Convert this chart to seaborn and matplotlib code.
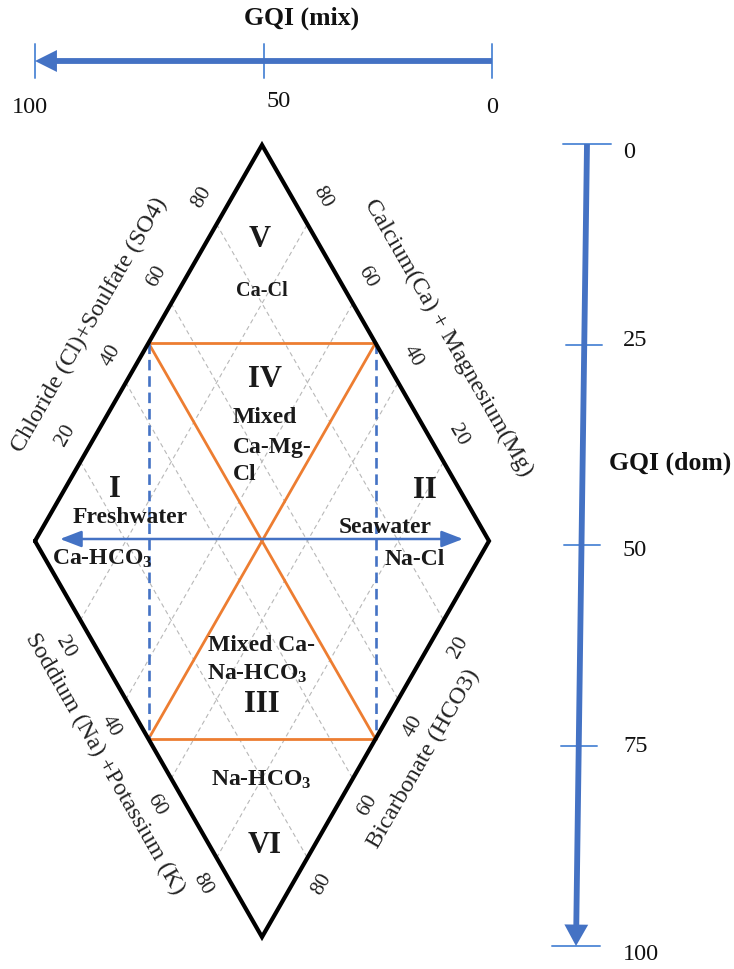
import numpy as np
import matplotlib
matplotlib.use("Agg")
import matplotlib.pyplot as plt
import seaborn as sns
from matplotlib.patches import FancyArrowPatch

# ---------------- data ----------------
gqi_mix_ticks = [100, 50, 0]
gqi_mix_labels = ["100", "50", "0"]
gqi_dom_ticks = [0, 25, 50, 75, 100]
gqi_dom_labels = ["0", "25", "50", "75", "100"]
edge_ticks = [20, 40, 60, 80]
grid_levels = [20, 40, 60, 80]
zone_split = 50

axis_titles = ["Chloride (Cl)+Soulfate (SO4)", "Calcium(Ca) + Magnesium(Mg)",
               "Soddium (Na) +Potassium (K)", "Bicarbonate (HCO3)"]

# ---------------- style ----------------
sns.set_theme(style="white")
plt.rcParams['font.family'] = ['Liberation Serif', 'DejaVu Serif']
plt.rcParams['mathtext.fontset'] = 'custom'
plt.rcParams['mathtext.rm'] = 'Liberation Serif:bold'
plt.rcParams['mathtext.it'] = 'Liberation Serif:bold'
plt.rcParams['mathtext.bf'] = 'Liberation Serif:bold'

BLUE = "#4472C4"
LBLUE = "#5B8FD8"
ORANGE = "#ED7D31"
GRAY = "#B8B8B8"

fig = plt.figure(figsize=(7.34, 9.69), dpi=100)
ax = fig.add_axes([0, 0, 1, 1])
ax.set_xlim(0, 734)
ax.set_ylim(969, 0)
ax.axis("off")

# diamond anchors (pixel layout)
L = np.array([35.0, 541.0])
T = np.array([262.0, 145.0])
B = np.array([262.0, 937.0])
R = T + B - L


def P(u, v):
    """diamond coordinates (percent) -> pixel position"""
    return L + u / 100.0 * (T - L) + v / 100.0 * (B - L)


def seg(p, q, **kw):
    ax.plot([p[0], q[0]], [p[1], q[1]], **kw)


# grid lines
for g in grid_levels:
    seg(P(g, 0), P(g, 100), color=GRAY, lw=0.8, ls=(0, (4, 3)), zorder=1)
    seg(P(0, g), P(100, g), color=GRAY, lw=0.8, ls=(0, (4, 3)), zorder=1)

# diamond outline
corners = [(0, 0), (100, 0), (100, 100), (0, 100), (0, 0)]
pts = np.array([P(u, v) for u, v in corners])
ax.plot(pts[:, 0], pts[:, 1], color="black", lw=3.0, solid_joinstyle="miter", zorder=5)

# orange zone boundaries
z = zone_split
seg(P(z, 0), P(100, z), color=ORANGE, lw=2.0, zorder=3)
seg(P(0, z), P(z, 100), color=ORANGE, lw=2.0, zorder=3)
seg(P(z, 0), P(z, 100), color=ORANGE, lw=2.0, zorder=3)
seg(P(100, z), P(0, z), color=ORANGE, lw=2.0, zorder=3)

# blue dashed verticals
seg(P(z, 0), P(0, z), color=BLUE, lw=1.9, ls=(0, (4, 2.2)), zorder=4)
seg(P(100, z), P(z, 100), color=BLUE, lw=1.9, ls=(0, (4, 2.2)), zorder=4)

# horizontal double arrow (freshwater <-> seawater)
cy = (L[1] + R[1]) / 2 - 2
arr = FancyArrowPatch((L[0] + 25, cy), (R[0] - 26, cy),
                      arrowstyle="<|-|>,head_length=1.3,head_width=0.5",
                      mutation_scale=10, color=BLUE, lw=1.8, shrinkA=0, shrinkB=0, zorder=6)
ax.add_patch(arr)

# ---------------- GQI (mix) axis ----------------
mix_y = 61
def mix_x(m):
    return R[0] + 3 + (m / 100.0) * (L[0] - R[0] - 3)

arr = FancyArrowPatch((mix_x(0), mix_y), (mix_x(100), mix_y),
                      arrowstyle="-|>,head_length=0.9,head_width=0.45",
                      mutation_scale=10, color=BLUE, lw=4.2, shrinkA=0, shrinkB=0,
                      joinstyle="miter", capstyle="butt", zorder=6)
ax.add_patch(arr)
mix_dx = [-5, 15, 0]
mix_dy = [107, 101, 107]
for m, lab, dx, dy in zip(gqi_mix_ticks, gqi_mix_labels, mix_dx, mix_dy):
    x = mix_x(m)
    ax.plot([x, x], [mix_y - 17, mix_y + 17], color=LBLUE, lw=1.4, zorder=5)
    ax.text(x + dx, dy, lab, ha="center", va="center", fontsize=17.5, color="#111111")
ax.text(302, 18, "GQI (mix)", ha="center", va="center", fontsize=18.5,
        fontweight="bold", color="#111111")

# ---------------- GQI (dom) axis ----------------
def dom_xy(d):
    return np.array([587 - d / 100.0 * 11, 144 + d / 100.0 * 802])

arr = FancyArrowPatch(tuple(dom_xy(0)), tuple(dom_xy(100)),
                      arrowstyle="-|>,head_length=0.9,head_width=0.5",
                      mutation_scale=10, color=BLUE, lw=4.2, shrinkA=0, shrinkB=0,
                      joinstyle="miter", capstyle="butt", zorder=6)
ax.add_patch(arr)
dom_dy = [8, -4, 5, 1, 9]
dom_half = [24, 18, 18, 18, 24]
for d, lab, dy, hw in zip(gqi_dom_ticks, gqi_dom_labels, dom_dy, dom_half):
    x, y = dom_xy(d)
    ax.plot([x - hw, x + hw], [y, y], color=LBLUE, lw=1.4, zorder=5)
    ax.text(623, y + dy, lab, ha="left", va="center", fontsize=17.5, color="#111111")
ax.text(670, 463, "GQI (dom)", ha="center", va="center", fontsize=18.5,
        fontweight="bold", color="#111111")

# ---------------- edge tick numbers and titles ----------------
def unit(a, b):
    d = b - a
    return d / np.hypot(*d)

edges = [
    # start, end, outward normal sign, rotation
    (L, T, np.array([-1, -1]), 60),
    (R, T, np.array([1, -1]), -60),
    (L, B, np.array([-1, 1]), -60),
    (R, B, np.array([1, 1]), 60),
]
title_pos = [(0.47, 60), (0.43, 66), (0.50, 50), (0.485, 51)]
for (a, b, sgn, rot), title, (tf, toff) in zip(edges, axis_titles, title_pos):
    d = unit(a, b)
    n = np.array([abs(d[1]), abs(d[0])]) * sgn
    length = np.hypot(*(b - a))
    for t in edge_ticks:
        p = a + d * length * (t / 100.0 + 0.035) + n * 26
        ax.text(p[0], p[1], str(t), rotation=rot, rotation_mode="anchor",
                ha="center", va="center", fontsize=15.5, color="#222222")
    p = a + d * length * tf + n * toff
    ax.text(p[0], p[1], title, rotation=rot, rotation_mode="anchor",
            ha="center", va="center", fontsize=17.5, color="#222222")

# ---------------- zone labels ----------------
def label(txt, x, y, size, ha="center"):
    ax.text(x, y + 0.33 * size * 100 / 72, txt, ha=ha, va="baseline",
            fontsize=size, fontweight="bold", color="#1a1a1a", zorder=7)

label("V", 260, 237, 22)
label("Ca-Cl", 262, 289, 14.5)
label("IV", 265, 377, 22)
label("Mixed", 233, 415, 17, ha="left")
label("Ca-Mg-", 233, 445, 17, ha="left")
label("Cl", 233, 472, 17, ha="left")
label("I", 115, 487, 22)
label("Freshwater", 130, 515, 17)
label("II", 425, 488, 22)
label("Seawater", 385, 525, 17)
label("Ca-HCO$_3$", 102, 557, 17)
label("Na-Cl", 415, 557, 17)
label("Mixed Ca-", 261, 643, 17)
label("Na-HCO$_3$", 257, 672, 17)
label("III", 262, 702, 22)
label("Na-HCO$_3$", 261, 778, 17)
label("VI", 265, 843, 22)

fig.savefig("out.png", dpi=100, facecolor="white")
